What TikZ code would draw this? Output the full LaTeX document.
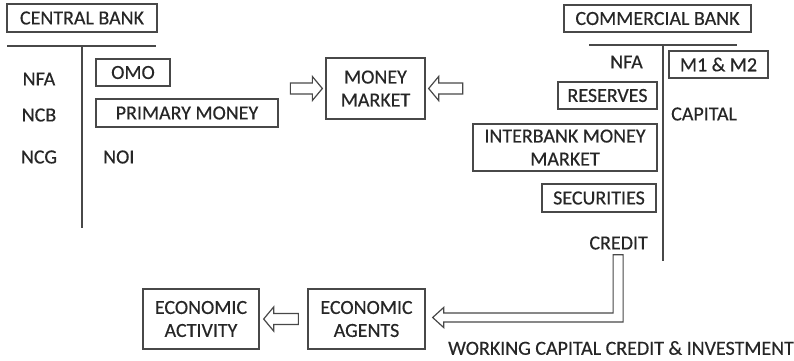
\documentclass[tikz,border=0pt]{standalone}
\usepackage{fontspec}
\setmainfont[UprightFeatures={FakeBold=0.4}]{Carlito}
\usetikzlibrary{calc}
\definecolor{ink}{HTML}{262626}
\definecolor{rule}{HTML}{484848}
\tikzset{
  lbl/.style={text=ink, font=\fontsize{20}{23}\selectfont, inner sep=0pt},
  box/.style={lbl, draw=rule, line width=1.3pt, align=center},
  ledger/.style={draw=rule, line width=1.4pt},
  blk/.style={draw=rule, line width=1.2pt, fill=white, line join=miter},
}
% horizontal hollow block arrow from #1 (tail) to #2 (tip)
\newcommand\hollowarrow[2]{%
  \draw[blk] let \p1=(#1), \p2=(#2), \n1={sign(\x2-\x1)} in
    (\x1,\y1-5.5pt) -- (\x2-\n1*10pt,\y1-5.5pt) -- (\x2-\n1*10pt,\y1-12pt)
    -- (\x2,\y1) -- (\x2-\n1*10pt,\y1+12pt) -- (\x2-\n1*10pt,\y1+5.5pt)
    -- (\x1,\y1+5.5pt) -- cycle;}
\begin{document}
\begin{tikzpicture}[x=1pt,y=-1pt]
\useasboundingbox (0,0) rectangle (794,360);

% central bank ledger
\node[box, minimum width=150pt, minimum height=28pt] (cb) at (82,18) {CENTRAL BANK};
\coordinate (cbl) at (7,46);
\coordinate (cbr) at (156,46);
\coordinate (cbt) at (82,46);
\coordinate (cbb) at (82,228);
\draw[ledger] (cbl) -- (cbr);
\draw[ledger] (cbt) -- (cbb);
\node[lbl] (nfa) at (39,79) {NFA};
\node[lbl] (ncb) at (39,115) {NCB};
\node[lbl] (ncg) at (39,157) {NCG};
\node[box, minimum width=74pt, minimum height=27pt] (omo) at (133,72.5) {OMO};
\node[box, minimum width=182pt, minimum height=28pt] (pm) at (187,113) {PRIMARY MONEY};
\node[lbl, anchor=west] (noi) at (103,157) {NOI};

% money market
\node[box, minimum width=99pt, minimum height=61pt] (mm) at (375.5,88.5) {MONEY\\MARKET};
\coordinate (mmla) at ($(mm.west)+(-35,0)$);
\coordinate (mmlb) at ($(mm.west)+(-3,0)$);
\coordinate (mmra) at ($(mm.east)+(37,0)$);
\coordinate (mmrb) at ($(mm.east)+(3,0)$);
\hollowarrow{mmla}{mmlb}
\hollowarrow{mmra}{mmrb}

% commercial bank ledger
\node[box, minimum width=187pt, minimum height=27pt] (cmb) at (657.5,18.5) {COMMERCIAL BANK};
\coordinate (cml) at (589,45);
\coordinate (cmr) at (737,45);
\coordinate (cmt) at (663,45);
\coordinate (cmbb) at (663,261);
\draw[ledger] (cml) -- (cmr);
\draw[ledger] (cmt) -- (cmbb);
\node[lbl, anchor=east] (nfa2) at (643,62) {NFA};
\node[box, minimum width=99pt, minimum height=27pt] (m12) at (718.5,64.5) {M1 \& M2};
\node[box, minimum width=99pt, minimum height=27pt] (res) at (607.5,95.5) {RESERVES};
\node[lbl, anchor=west] (cap) at (671,114) {CAPITAL};
\node[box, minimum width=184pt, minimum height=47pt] (ibm) at (565,147.5) {INTERBANK MONEY\\MARKET};
\node[box, minimum width=114pt, minimum height=28pt] (sec) at (599,198) {SECURITIES};
\node[lbl, anchor=east] (crd) at (648,243) {CREDIT};

% economy
\node[box, minimum width=116pt, minimum height=60pt] (act) at (201,319) {ECONOMIC\\ACTIVITY};
\node[box, minimum width=117pt, minimum height=60pt] (agt) at (366.5,319) {ECONOMIC\\AGENTS};
\coordinate (aga) at ($(agt.west)+(-9,0)$);
\coordinate (agb) at ($(act.east)+(4,0)$);
\hollowarrow{aga}{agb}

% credit flow to economic agents
\coordinate (crs) at ($(crd.south)+(-0.5,5)$);
\coordinate (crt) at ($(agt.east)+(7,-1.5)$);
\draw[blk] let \p1=(crs), \p2=(crt) in
  (\x1-5pt,\y1) -- (\x1+5pt,\y1) -- (\x1+5pt,\y2-4.5pt) -- (\x2+11pt,\y2-4.5pt)
  -- (\x2+11pt,\y2-10pt) -- (\x2,\y2) -- (\x2+11pt,\y2+10pt) -- (\x2+11pt,\y2+4.5pt)
  -- (\x1-5pt,\y2+4.5pt) -- cycle;
\node[lbl] (wcc) at (621,348) {WORKING CAPITAL CREDIT \& INVESTMENT};
\end{tikzpicture}
\end{document}
